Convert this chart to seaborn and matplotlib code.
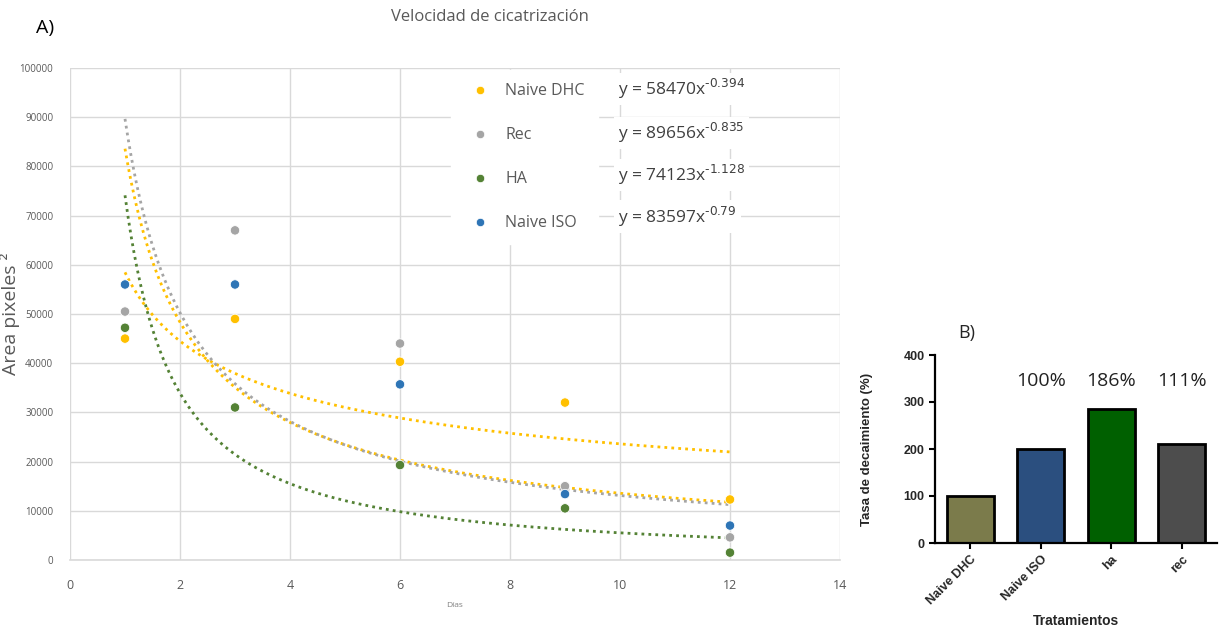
import numpy as np
import pandas as pd
import matplotlib
matplotlib.use("Agg")
import matplotlib.pyplot as plt
import seaborn as sns

# ---------------- data ----------------
dias = [1, 3, 6, 9, 12]
naive_dhc = [45000, 49000, 40300, 32000, 12300]
rec = [50500, 67000, 44000, 15000, 4600]
ha = [47200, 31000, 19300, 10500, 1500]
naive_iso = [56000, 56000, 35700, 13400, 7000]

series_names = ["Naive DHC", "Rec", "HA", "Naive ISO"]
fit_a = [58470, 89656, 74123, 83597]
fit_b = [-0.394, -0.835, -1.128, -0.79]
fit_base = ["y = 58470x", "y = 89656x", "y = 74123x", "y = 83597x"]
fit_exp = ["-0.394", "-0.835", "-1.128", "-0.79"]

x_ticks = [0, 2, 4, 6, 8, 10, 12, 14]
y_ticks = [0, 10000, 20000, 30000, 40000, 50000, 60000, 70000, 80000, 90000, 100000]

tratamientos = ["Naive DHC", "Naive ISO", "ha", "rec"]
tasa = [100, 200, 286, 211]
pct_labels = ["", "100%", "186%", "111%"]

# ---------------- style ----------------
sns.set_theme(style="white")
plt.rcParams['font.family'] = ['Open Sans', 'DejaVu Sans']

point_colors = {"Naive DHC": "#FFC000", "Rec": "#A5A5A5", "HA": "#548235", "Naive ISO": "#2E75B6"}
trend_colors = {"Naive DHC": "#FFC000", "Rec": "#A5A5A5", "HA": "#548235", "Naive ISO": "#FFC000"}
bar_colors = ["#7B7B4B", "#2B4F7F", "#006000", "#4D4D4D"]

fig = plt.figure(figsize=(12.2, 6.34), dpi=100)

# ---------------- panel A ----------------
axA = fig.add_axes([70 / 1220, (634 - 560) / 634, 770 / 1220, 492 / 634])

df = pd.DataFrame({
    "Días": dias * 4,
    "Area": naive_dhc + rec + ha + naive_iso,
    "Serie": sum([[n] * len(dias) for n in series_names], []),
})

# trendlines (power fits shown on chart)
xs = np.linspace(1, 12, 200)
trend_rows = []
for name, a, b in zip(series_names, fit_a, fit_b):
    for xv in xs:
        trend_rows.append({"x": xv, "y": a * xv ** b, "Serie": name})
tdf = pd.DataFrame(trend_rows)
for name in ["Naive DHC", "Naive ISO", "Rec", "HA"]:
    sub = tdf[tdf["Serie"] == name]
    sns.lineplot(data=sub, x="x", y="y", ax=axA, color=trend_colors[name],
                 linestyle=(0, (1, 1.5)), linewidth=2.0, legend=False, zorder=2)

sns.scatterplot(data=df, x="Días", y="Area", hue="Serie", palette=point_colors,
                hue_order=series_names, s=46, edgecolor="white", linewidth=0.6,
                ax=axA, zorder=3, legend=False)

axA.set_xlim(0, 14)
axA.set_ylim(0, 100000)
axA.set_xticks(x_ticks)
axA.set_yticks(y_ticks)
axA.set_xticklabels([str(v) for v in x_ticks], fontsize=9, color="#595959")
axA.set_yticklabels([str(v) for v in y_ticks], fontsize=7, color="#595959")
axA.tick_params(axis="both", length=0)
axA.tick_params(axis="x", pad=14)
axA.tick_params(axis="y", pad=12)
axA.grid(True, color="#D9D9D9", linewidth=1)
axA.set_axisbelow(True)
for s in ["top", "right", "left"]:
    axA.spines[s].set_visible(False)
axA.spines["bottom"].set_color("#D9D9D9")
axA.spines["bottom"].set_linewidth(1.2)

axA.set_xlabel("Días", fontsize=6, color="#7F7F7F")
axA.xaxis.set_label_coords(0.5, -0.085)
axA.set_ylabel("Area pixeles ²", fontsize=14, color="#595959")
axA.yaxis.set_label_coords(-0.065, 0.5)

# legend
handles = [plt.Line2D([], [], marker="o", linestyle="", markersize=6,
                      markerfacecolor=point_colors[n], markeredgecolor="white",
                      markeredgewidth=0.5) for n in series_names]
leg = axA.legend(handles, series_names, loc="upper left",
                 bbox_to_anchor=(0.495, 0.995), frameon=True, fontsize=11.5,
                 labelspacing=1.75, handletextpad=0.6, borderpad=0.8,
                 borderaxespad=0)
leg.get_frame().set_facecolor("white")
leg.get_frame().set_edgecolor("white")
leg.get_frame().set_alpha(1)
leg.set_zorder(5)
for t in leg.get_texts():
    t.set_color("#595959")

eq_y = [0.957, 0.868, 0.783, 0.698]
for base, ex, yy in zip(fit_base, fit_exp, eq_y):
    lab = base + r"$^{\mathrm{" + ex.replace("-", r"\text{-}") + "}}$"
    axA.text(0.712, yy, lab, transform=axA.transAxes, fontsize=12.5, color="#404040",
             ha="left", va="center", zorder=6,
             bbox=dict(facecolor="white", edgecolor="none", pad=3))

fig.text(490 / 1220, 1 - 17 / 634, "Velocidad de cicatrización", fontsize=12,
         color="#595959", ha="center", va="center")
fig.text(36 / 1220, 1 - 28 / 634, "A)", fontsize=14, color="black", ha="left", va="center")

# ---------------- panel B ----------------
axB = fig.add_axes([935 / 1220, (634 - 543) / 634, 282 / 1220, 188 / 634])
bdf = pd.DataFrame({"Tratamientos": tratamientos, "Tasa": tasa})
sns.barplot(data=bdf, x="Tratamientos", y="Tasa", hue="Tratamientos",
            palette=bar_colors, order=tratamientos, hue_order=tratamientos,
            width=0.66, edgecolor="black", linewidth=2, ax=axB, legend=False,
            errorbar=None, saturation=1)
axB.set_xlim(-0.5, 3.5)
axB.set_ylim(0, 400)
axB.set_yticks([0, 100, 200, 300, 400])
for s in ["top", "right"]:
    axB.spines[s].set_visible(False)
for s in ["left", "bottom"]:
    axB.spines[s].set_linewidth(1.6)
    axB.spines[s].set_color("black")
axB.tick_params(axis="both", direction="out", length=4, width=1.5, color="black",
                bottom=True, left=True)
for lab in axB.get_yticklabels():
    lab.set_fontfamily(["Liberation Sans"])
    lab.set_fontweight("bold")
    lab.set_fontsize(9)
axB.set_xticks(range(len(tratamientos)))
axB.set_xticklabels(tratamientos, rotation=45, ha="right", rotation_mode="anchor",
                    fontsize=9, fontweight="bold", family=["Liberation Sans"])
axB.set_xlabel("Tratamientos", fontsize=10, fontweight="bold", family=["Liberation Sans"])
axB.set_ylabel("Tasa de decaimiento (%)", fontsize=9.5, fontweight="bold",
               family=["Liberation Sans"])
axB.xaxis.set_label_coords(0.5, -0.38)
axB.yaxis.set_label_coords(-0.22, 0.5)
for i, t in enumerate(pct_labels):
    if t:
        axB.text(i, 325, t, ha="center", va="bottom", fontsize=14, color="#222222")
fig.text(958 / 1220, 1 - 333 / 634, "B)", fontsize=13, ha="left", va="center")

fig.savefig("out.png", dpi=100)
